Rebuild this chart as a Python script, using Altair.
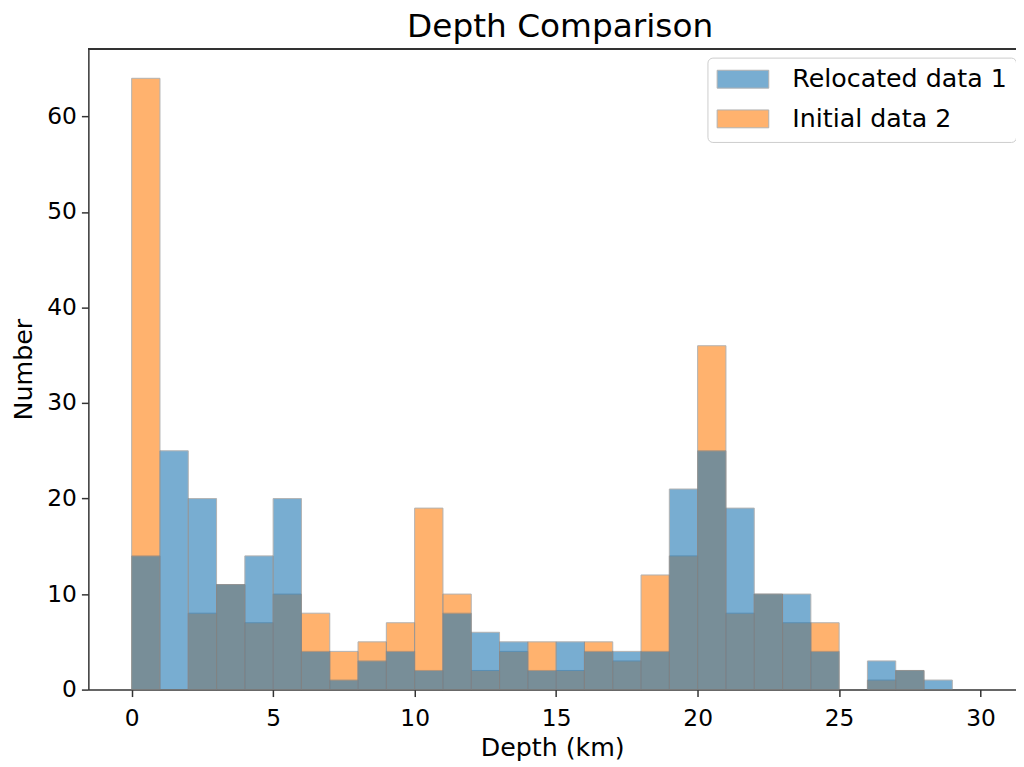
import altair as alt
import pandas as pd

# Histogram bins (km), width 1
bin_starts = [0, 1, 2, 3, 4, 5, 6, 7, 8, 9, 10, 11, 12, 13, 14, 15, 16, 17, 18, 19,
              20, 21, 22, 23, 24, 25, 26, 27, 28]
bin_width = 1
relocated_counts = [14, 25, 20, 11, 14, 20, 4, 1, 3, 4, 2, 8, 6, 5, 2, 5, 4, 4, 4, 21,
                    25, 19, 10, 10, 4, 0, 3, 2, 1]
initial_counts = [64, 0, 8, 11, 7, 10, 8, 4, 5, 7, 19, 10, 2, 4, 5, 2, 5, 3, 12, 14,
                  36, 8, 10, 7, 7, 0, 1, 2, 0]
series_names = ["Relocated data 1", "Initial data 2"]
series_colors = ["#1f77b4", "#ff7f0e"]
x_ticks = [0, 5, 10, 15, 20, 25, 30]
y_ticks = [0, 10, 20, 30, 40, 50, 60]

rows = []
for name, counts in ((series_names[1], initial_counts), (series_names[0], relocated_counts)):
    for s, c in zip(bin_starts, counts):
        if c > 0:
            rows.append({"series": name, "start": s, "end": s + bin_width, "count": c})
df = pd.DataFrame(rows)

W, H = 935, 646
FONT = "DejaVu Sans"

x_enc = alt.X("start:Q", scale=alt.Scale(domain=[-1.53, 31.25], nice=False, zero=False),
              axis=alt.Axis(title="Depth (km)", values=x_ticks, format="d"))
y_enc = alt.Y("count:Q", stack=None, scale=alt.Scale(domain=[0, 67.1], nice=False),
              axis=alt.Axis(title="Number", values=y_ticks, format="d"))
color_enc = alt.Color("series:N",
                      scale=alt.Scale(domain=series_names, range=series_colors),
                      legend=alt.Legend(
                          orient="none", legendX=624, legendY=9, title=None,
                          labelFontSize=25.5, labelFont=FONT, labelColor="black",
                          labelLimit=500,
                          symbolType="M-1.33,-1L4.45,-1L4.45,1L-1.33,1Z",
                          symbolSize=324, symbolOpacity=0.6,
                          symbolStrokeColor="#808080", symbolStrokeWidth=1,
                          labelOffset=51, rowPadding=13, padding=9,
                          strokeColor="#cccccc", fillColor="white", cornerRadius=5))

def bars(name):
    return alt.Chart(df).transform_filter(alt.datum.series == name).mark_bar(
        opacity=0.6, stroke="#808080", strokeWidth=1
    ).encode(x=x_enc, x2="end:Q", y=y_enc, y2=alt.datum(0), color=color_enc)

top_spine = alt.Chart(df).mark_rule(color="#333333", strokeWidth=1.5).encode(
    x=alt.value(0), x2=alt.value(W), y=alt.value(0))

chart = alt.layer(bars(series_names[1]), bars(series_names[0]), top_spine).properties(
    width=W, height=H,
    title=alt.TitleParams("Depth Comparison", fontSize=33, font=FONT, fontWeight="normal",
                          color="black", anchor="middle", dx=8, offset=4),
    autosize=alt.AutoSizeParams(type="none"),
    padding={"left": 81, "top": 38, "right": 0, "bottom": 75},
).configure_view(stroke=None).configure_axis(
    labelFont=FONT, titleFont=FONT, labelFontSize=23.5, titleFontSize=25.5,
    titleFontWeight="normal", labelColor="black", titleColor="black",
    domainColor="#333333", domainWidth=1.5, tickColor="#333333", tickWidth=1.5,
    tickSize=7, grid=False, labelPadding=5,
).configure_axisX(titlePadding=6, labelPadding=10).configure_axisY(titlePadding=10)

chart.save("out.html", embed_options={"renderer": "svg", "actions": False})
